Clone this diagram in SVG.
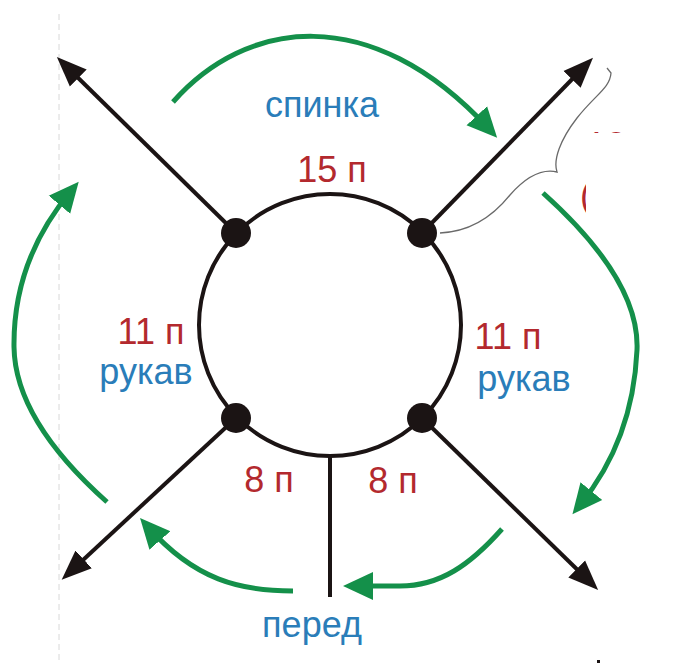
<svg xmlns="http://www.w3.org/2000/svg" width="675" height="664" viewBox="0 0 675 664">
<style>
.lbl{font-family:"Liberation Sans",Arial,sans-serif;font-size:36px;text-anchor:middle}
.red{fill:#b3292e}
.blue{fill:#2a7db9}
.blk{stroke:#1b1414;stroke-width:4;fill:none}
.grn{stroke:#14904a;stroke-width:5;fill:none;marker-end:url(#ga)}
.dot{fill:#1b1414}
</style>
<defs>
<marker id="ba" markerUnits="userSpaceOnUse" markerWidth="32" markerHeight="26" refX="20" refY="12" orient="auto" viewBox="0 0 32 24">
<path d="M0,0 L30,12 L0,24 Z" fill="#1b1414"/>
</marker>
<marker id="ga" markerUnits="userSpaceOnUse" markerWidth="32" markerHeight="30" refX="18" refY="14" orient="auto" viewBox="0 0 32 28">
<path d="M0,0 L30,14 L0,28 Z" fill="#14904a"/>
</marker>
</defs>
<rect width="675" height="664" fill="#fff"/>
<line x1="59" y1="14" x2="59" y2="664" stroke="#d8d8d8" stroke-width="1" stroke-dasharray="6,4"/>
<g id="hidden-note">
<text x="580" y="208" class="lbl red" style="text-anchor:start">(</text>
<text x="586" y="158" class="lbl red" style="text-anchor:start">12</text>
<rect x="586" y="133" width="89" height="100" fill="#fff"/>
</g>
<g id="connectors">
<line class="blk" x1="236" y1="233" x2="64" y2="64" marker-end="url(#ba)"/>
<line class="blk" x1="422" y1="233" x2="586" y2="65" marker-end="url(#ba)"/>
<line class="blk" x1="236" y1="418" x2="69" y2="573" marker-end="url(#ba)"/>
<line class="blk" x1="422" y1="418" x2="591" y2="583" marker-end="url(#ba)"/>
<line class="blk" x1="330" y1="456" x2="330" y2="597"/>
<path class="grn" d="M173,102 C245,20 370,0 489,129"/>
<path class="grn" d="M543,193 Q640,280 637,350 Q633,440 580,505"/>
<path class="grn" d="M107,502 Q15,420 14,347 Q13,260 71,191"/>
<path class="grn" d="M502,529 C470,565 440,586 400,586 L355,586"/>
<path class="grn" d="M293,591 C240,591 195,580 148,527"/>
<path d="M440,233 C465,232 490,220 510,195 C525,178 540,168 557,172 C553,160 560,140 577,118 C595,95 610,88 611,73 L607,68" fill="none" stroke="#6a6a6a" stroke-width="1.3"/>
</g>
<g id="neck">
<circle cx="330" cy="325" r="131" fill="none" stroke="#1b1414" stroke-width="4"/>
</g>
<g id="dot-tl"><circle class="dot" cx="236" cy="233" r="15"/></g>
<g id="dot-tr"><circle class="dot" cx="422" cy="233" r="15"/></g>
<g id="dot-bl"><circle class="dot" cx="236" cy="418" r="15"/></g>
<g id="dot-br"><circle class="dot" cx="422" cy="418" r="15"/></g>
<g id="back">
<text class="lbl blue" x="322" y="117">спинка</text>
<text class="lbl red" x="332" y="182">15 п</text>
</g>
<g id="sleeve-left">
<text class="lbl red" x="151" y="344">11 п</text>
<text class="lbl blue" x="146" y="384">рукав</text>
</g>
<g id="sleeve-right">
<text class="lbl red" x="508" y="349">11 п</text>
<text class="lbl blue" x="524" y="391">рукав</text>
</g>
<g id="front">
<text class="lbl red" x="269" y="492">8 п</text>
<text class="lbl red" x="393" y="493">8 п</text>
<text class="lbl blue" x="312" y="637">перед</text>
</g>
<rect x="597" y="660" width="3" height="3" fill="#1b1414"/>
</svg>
